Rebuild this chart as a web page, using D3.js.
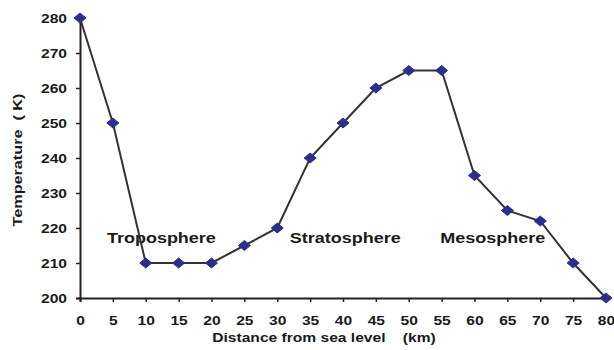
<!DOCTYPE html>
<html><head><meta charset="utf-8">
<script src="https://cdn.jsdelivr.net/npm/d3@7"></script>
<style>body{margin:0;background:#fff}svg{display:block}text{font-family:Arial,"Liberation Sans",sans-serif;font-weight:bold;fill:#1a1a1a}</style>
</head><body>
<script>
const distances = [0,5,10,15,20,25,30,35,40,45,50,55,60,65,70,75,80];
const temperatures = [280,250,210,210,210,215,220,240,250,260,265,265,235,225,222,210,200];
const yTicks = [200,210,220,230,240,250,260,270,280];
const layerLabels = ["Troposphere","Stratosphere","Mesosphere"];
const layerLabelPos = [[4.1,216],[31.9,216],[54.8,216]];
const xTitle = "Distance from sea level    (km)";
const yTitle = "Temperature  ( K)";

const W=614,H=350;
const svg=d3.select("body").append("svg").attr("width",W).attr("height",H);
const x=d3.scaleLinear().domain([0,80]).range([80,606]);
const y=d3.scaleLinear().domain([200,280]).range([298,18]);

const gx=svg.append("g").attr("transform","translate(0,298)")
  .call(d3.axisBottom(x).tickValues(distances).tickSize(4).tickPadding(14).tickFormat(d3.format("d")));
const gy=svg.append("g").attr("transform","translate(80,0)")
  .call(d3.axisLeft(y).tickValues(yTicks).tickSize(4).tickPadding(11).tickFormat(d3.format("d")));
[gx,gy].forEach(g=>{
  g.select(".domain").attr("stroke","#222").attr("stroke-width",2);
  g.selectAll(".tick line").attr("stroke","#222").attr("stroke-width",1.5);
  g.selectAll("text").attr("font-size",13).attr("fill","#1a1a1a").attr("font-family","Arial,'Liberation Sans',sans-serif");
});
gx.selectAll(".tick text").attr("transform","scale(1.2,1)");
gy.selectAll(".tick text").attr("transform","scale(1.2,1)").attr("x",-13/1.2).attr("dy","0.35em");

const line=d3.line().x((d,i)=>x(distances[i])).y(d=>y(d));
svg.append("path").datum(temperatures).attr("d",line).attr("fill","none").attr("stroke","#333").attr("stroke-width",2);

svg.selectAll(".m").data(temperatures).enter().append("path")
  .attr("d","M0,-5L6,0L0,5L-6,0Z").attr("fill","#2d2d8f").attr("stroke","#2d2d8f").attr("stroke-width",1).attr("stroke-linejoin","round")
  .attr("transform",(d,i)=>`translate(${x(distances[i])},${y(d)})`);

svg.selectAll(".lbl").data(layerLabels).enter().append("text")
  .attr("transform",(d,i)=>`translate(${x(layerLabelPos[i][0])},${y(layerLabelPos[i][1])+1}) scale(1.2,1)`)
  .attr("font-size",15).text(d=>d);

svg.append("text").attr("transform","translate(324,342) scale(1.3,1)").attr("text-anchor","middle")
  .attr("font-size",12).style("white-space","pre").text(xTitle);
svg.append("text").attr("transform","translate(22,160) rotate(-90) scale(1.35,1)").attr("text-anchor","middle")
  .attr("font-size",12).style("white-space","pre").text(yTitle);
</script>
</body></html>
